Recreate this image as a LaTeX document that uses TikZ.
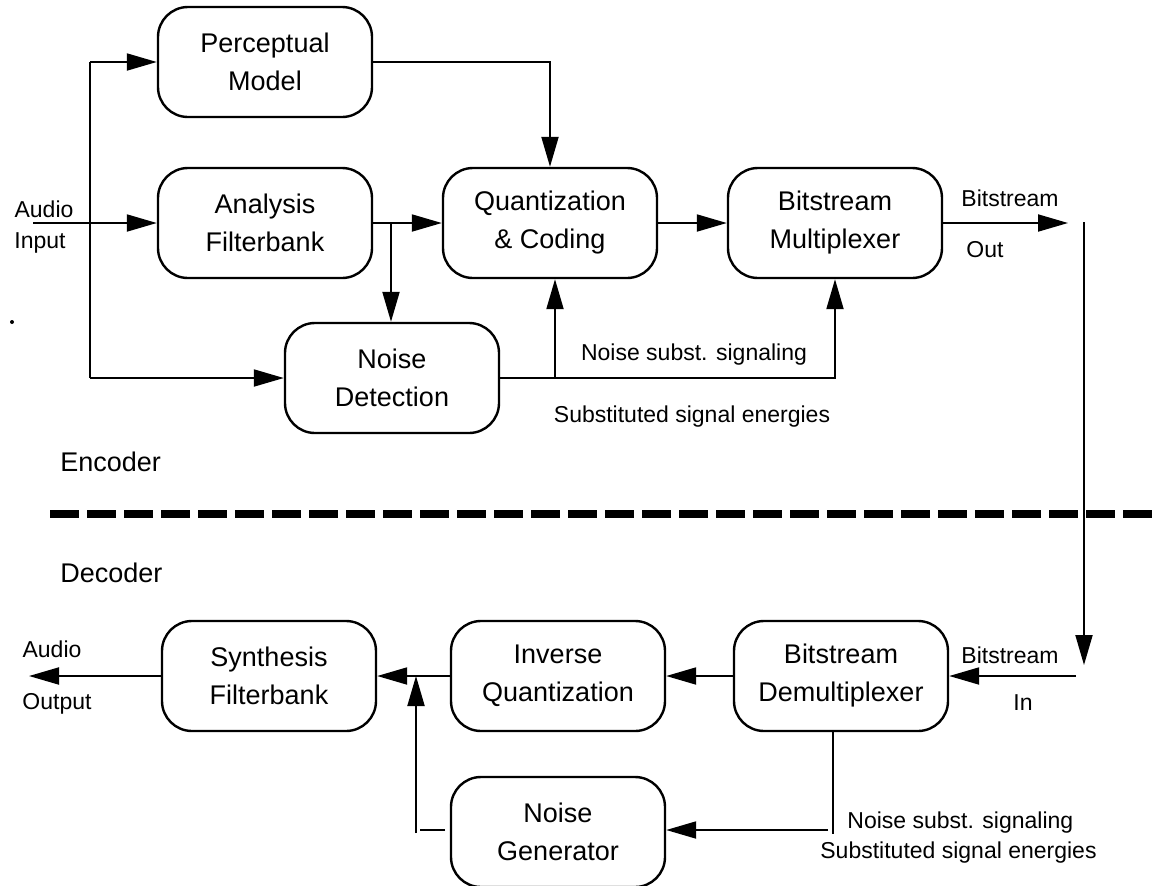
\documentclass[tikz,border=0pt]{standalone}
\usepackage{fontspec}
\setmainfont{Liberation Sans}
\usetikzlibrary{positioning, calc, arrows.meta}

\tikzset{
  block/.style={draw, line width=1.2pt, rounded corners=15pt,
    minimum width=107pt, minimum height=55pt, align=center,
    font=\fontsize{13.5}{19}\selectfont},
  sig/.style={line width=1pt},
  flow/.style={sig, -{Triangle[length=15pt,width=8.5pt]}},
  tag/.style={font=\fontsize{11.5}{14}\selectfont, inner sep=0pt},
  part/.style={font=\fontsize{13.5}{16}\selectfont, inner sep=0pt, anchor=west},
}

\begin{document}
\begin{tikzpicture}[x=0.5pt, y=-0.5pt]
    \useasboundingbox (0,0) rectangle (1153,885);

    % Encoder blocks
    \node[block] (percep)   at (265,62)  {Perceptual\\Model};
    \node[block] (analysis) at (265,223) {Analysis\\Filterbank};
    \node[block] (quant)    at (550,223) {Quantization\\\& Coding};
    \node[block] (mux)      at (835,223) {Bitstream\\Multiplexer};
    \node[block] (detect)   at (392,378) {Noise\\Detection};

    % Decoder blocks
    \node[block] (synth)    at (269,676) {Synthesis\\Filterbank};
    \node[block] (invq)     at (558,676) {Inverse\\Quantization};
    \node[block] (demux)    at (841,676) {Bitstream\\Demultiplexer};
    \node[block] (noisegen) at (558,832) {Noise\\Generator};

    % Encoder signal paths
    \coordinate (ain) at (33,223);
    \coordinate (tap) at (90,223);
    \coordinate (fork) at (391,223);
    \coordinate (nsig) at (555,378);
    \coordinate (bout) at (1068,223);
    \draw[flow] (ain) -- (analysis);
    \draw[sig] (tap |- percep) -- (tap |- detect);
    \draw[flow] (tap |- percep) -- (percep);
    \draw[flow] (tap |- detect) -- (detect);
    \draw[flow] (analysis) -- (quant);
    \draw[flow] (fork) -- (fork |- detect.north);
    \draw[flow] (percep) -| (quant);
    \draw[flow] (quant) -- (mux);
    \draw[flow] (mux) -- (bout);
    \draw[flow] (detect) -| (mux);
    \draw[flow] (nsig) -- (nsig |- quant.south);

    \node[tag] (ainA) at (44,209) {Audio};
    \node[tag] (ainB) at (40,243) {Input};
    \node[tag] (boutA) at (1010,198) {Bitstream};
    \node[tag] (boutB) at (985,250) {Out};
    \node[tag] (nsA) at (694,355) {Noise subst. signaling};
    \node[tag] (nsB) at (692,417) {Substituted signal energies};

    % Encoder / decoder split
    \node[part] (enc) at (60,462) {Encoder};
    \node[part] (dec) at (60,573) {Decoder};
    \draw[line width=4pt, dash pattern=on 14.5pt off 4pt] (50,514) -- (1153,514);
    \fill (12,322) circle (1pt);

    % Channel link
    \coordinate (linkA) at (1084,222);
    \coordinate (linkB) at (1084,665);
    \coordinate (bin) at (1076,676);
    \draw[flow] (linkA) -- (linkB);
    \draw[flow] (bin) -- (demux);

    % Decoder signal paths
    \coordinate (aout) at (29,676);
    \coordinate (merge) at (416,676);
    \coordinate (nfoot) at (416,833);
    \coordinate (nstubA) at (445,830);
    \coordinate (nstubB) at (420,830);
    \coordinate (dtap) at (833,732);
    \coordinate (dfoot) at (833,834);
    \coordinate (dturn) at (828,830);
    \draw[flow] (demux) -- (invq);
    \draw[flow] (invq) -- (synth);
    \draw[flow] (synth) -- (aout);
    \draw[sig] (nstubA) -- (nstubB);
    \draw[flow] (nfoot) -- (merge);
    \draw[sig] (dtap) -- (dfoot);
    \draw[flow] (dturn) -- (dturn -| noisegen.east);

    \node[tag] (binA) at (1010,655) {Bitstream};
    \node[tag] (binB) at (1023,703) {In};
    \node[tag] (aoutA) at (52,649) {Audio};
    \node[tag] (aoutB) at (57,704) {Output};
    \node[tag, anchor=west] (dnsA) at (847,823) {Noise subst. signaling};
    \node[tag, anchor=west] (dnsB) at (820,853) {Substituted signal energies};
\end{tikzpicture}
\end{document}
